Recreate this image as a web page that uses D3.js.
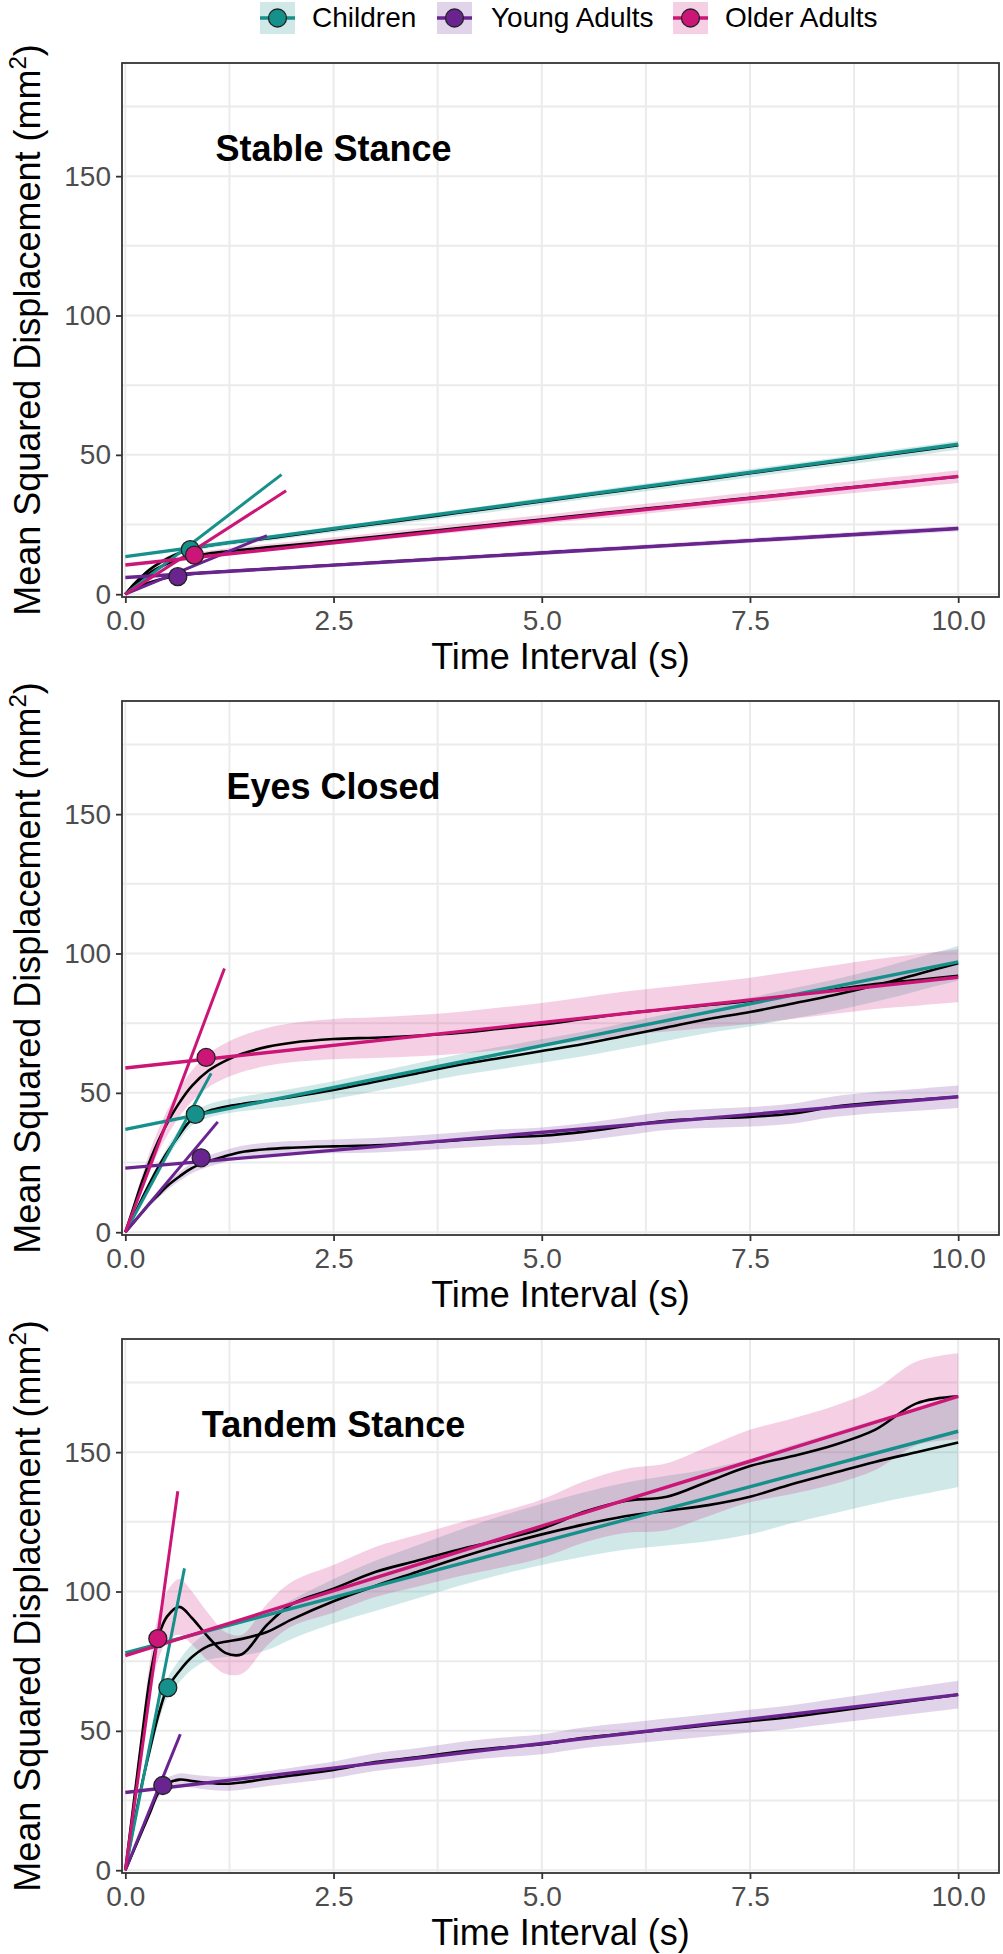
<!DOCTYPE html>
<html>
<head>
<meta charset="utf-8">
<script src="https://cdn.jsdelivr.net/npm/d3@7"></script>
<style>
body { margin: 0; background: #fff; }
text { font-family: "Liberation Sans", Arial, sans-serif; }
</style>
</head>
<body>
<div id="chart"></div>
<script>
var width = 1003;
var height = 1954;

var groups = ["Children", "Young Adults", "Older Adults"];
var colors = ["#15908B", "#6A248F", "#CB1677"];
var conditions = ["Stable Stance", "Eyes Closed", "Tandem Stance"];

var xTicks = [0, 2.5, 5, 7.5, 10];
var xMinor = [1.25, 3.75, 6.25, 8.75];
var yTicks = [0, 50, 100, 150];
var yMinor = [25, 75, 125, 175];

// time interval (s) of the mean curves
var time = [0, 0.1, 0.2, 0.3, 0.4, 0.5, 0.65, 0.8, 1.0, 1.2, 1.4, 1.7, 2.0, 2.5, 3, 3.5, 4, 4.5, 5, 5.5, 6, 6.5, 7, 7.5, 8, 8.5, 9, 9.5, 10];

// Stable Stance
var stableChildren = [0,3.5,6.5,9,11,12.8,14.8,16.2,17.4,18.3,19,20,21.2,23.2,25.2,27.2,29.2,31.2,33.3,35.3,37.3,39.3,41.3,43.4,45.4,47.4,49.4,51.4,53.5];
var stableYoung = [0,1.8,3.2,4.3,5.2,5.9,6.7,7.3,7.8,8.2,8.6,9.1,9.6,10.5,11.4,12.3,13.1,14,14.9,15.8,16.6,17.5,18.4,19.3,20.1,21,21.9,22.7,23.6];
var stableOlder = [0,3,5.6,7.8,9.5,10.9,12.5,13.6,14.6,15.3,15.9,16.8,17.6,19.1,20.6,22.2,23.7,25.3,26.8,28.4,29.9,31.5,33,34.6,36.1,37.7,39.2,40.7,42.2];
var stableChildrenSe = [0,0.3,0.5,0.6,0.7,0.8,0.8,0.9,0.9,0.9,1,1,1,1.1,1.1,1.2,1.2,1.3,1.3,1.3,1.4,1.4,1.4,1.5,1.5,1.5,1.6,1.6,1.6];
var stableYoungSe = [0,0.2,0.3,0.4,0.4,0.5,0.5,0.5,0.5,0.5,0.6,0.6,0.6,0.6,0.7,0.7,0.7,0.7,0.8,0.8,0.8,0.8,0.9,0.9,0.9,0.9,1,1,1];
var stableOlderSe = [0,0.3,0.5,0.6,0.7,0.8,0.9,1,1,1.1,1.1,1.2,1.2,1.3,1.4,1.4,1.5,1.6,1.6,1.7,1.8,1.8,1.9,2,2,2.1,2.2,2.2,2.3];
var stableLongFit = [[13.5, 53.8], [6, 23.6], [10.5, 42.3]];   // y at t=0 and t=10
var stableShortFit = [[1.875, 42.9], [1.7, 21], [1.93, 37.1]]; // end point of line from origin
var stablePoints = [[0.78, 16], [0.63, 6.3], [0.83, 14]];

// Eyes Closed
var eyesChildren = [0,6,12,18,23.5,28.5,35,40.5,43.5,45,46,47.2,48.5,51,54,57,60,62.5,65,67.5,70.5,73.5,76.5,79,82,85,88.5,92.5,96.5];
var eyesYoung = [0,3.5,7,10.5,13.5,16.5,20,23,25.5,27.3,28.8,29.8,30.3,30.8,31.2,32,33,34,34.6,36,38,40,40.8,41.4,42.5,45,46.5,47.5,48.6];
var eyesOlder = [0,9,18,26,33,39,46.5,52.5,58,61.5,64,66.5,68,69.3,69.8,70.5,71.5,73,74.5,76.5,78.5,80,81.5,83,85,87,89,90.5,92];
var eyesChildrenSe = [0,0.5,1,1.3,1.6,1.8,2,2.2,2.4,2.5,2.6,2.8,3,3.2,3.4,3.6,3.8,4,4.2,4.4,4.6,4.8,5,5.2,5.4,5.6,5.8,6,6.2];
var eyesYoungSe = [0,0.4,0.7,1,1.2,1.4,1.6,1.8,2,2.1,2.2,2.3,2.4,2.5,2.6,2.7,2.8,2.9,3,3.1,3.2,3.3,3.4,3.5,3.6,3.7,3.8,3.9,4];
var eyesOlderSe = [0,1.5,2.5,3.5,4,4.5,5,5.5,6,6.3,6.5,6.8,7,7.2,7.3,7.4,7.5,7.6,7.7,7.8,7.9,8,8.1,8.3,8.5,8.7,8.9,9.2,9.5];
var eyesLongFit = [[36.9, 97], [23, 48.6], [58.9, 91.5]];
var eyesShortFit = [[1.03, 57], [1.11, 39.6], [1.19, 94.6]];
var eyesPoints = [[0.84, 42.3], [0.91, 26.7], [0.97, 62.7]];

// Tandem Stance
var tandemChildren = [0,16,31,44,56,65,71.5,76.5,80.5,82,83,85.5,90,96.5,102,107,112,116.5,120.5,124,127,129,131,134,138.5,142.5,146.5,150,153.5];
var tandemYoung = [0,7,14,21,28,31,32.5,32,31.3,31,31.5,32.8,34,36,38.8,40.5,42.5,44,45.2,47.5,49,50.5,52,53.5,55,57,59,61,63];
var tandemOlder = [0,24,48,70,84,91,94.5,90.5,83.5,78,77.5,88,95.5,101,107,111,115,118.5,122.5,128.5,132.5,134,139.5,145,148.5,152.5,158,167.5,170];
var tandemChildrenSe = [0,1,2,2.5,3,3.5,4,4.5,5,5.5,6,6.5,7,8,9,9.5,10,10.5,11,11.5,12,12.5,13,13.5,14,14.5,15,15.5,16];
var tandemYoungSe = [0,0.6,1.1,1.5,1.8,2,2.2,2.3,2.4,2.5,2.6,2.7,2.8,3,3.2,3.3,3.4,3.5,3.6,3.7,3.8,3.9,4,4.1,4.2,4.4,4.6,4.8,5];
var tandemOlderSe = [0,2,4,6,8,9,10,9.5,8.5,7.5,7,7.5,8,8.5,9,9.3,9.6,10,10.5,11,11.5,12,12.5,13,13.5,14,14.5,15,15.5];
var tandemLongFit = [[78, 157.5], [27.9, 63], [77, 170]];
var tandemShortFit = [[0.71, 108.3], [0.66, 48.8], [0.63, 136]];
var tandemPoints = [[0.51, 65.5], [0.45, 30.4], [0.39, 83.1]];

var means = [
    [stableChildren, stableYoung, stableOlder],
    [eyesChildren, eyesYoung, eyesOlder],
    [tandemChildren, tandemYoung, tandemOlder]
];
var ses = [
    [stableChildrenSe, stableYoungSe, stableOlderSe],
    [eyesChildrenSe, eyesYoungSe, eyesOlderSe],
    [tandemChildrenSe, tandemYoungSe, tandemOlderSe]
];
var longFits = [stableLongFit, eyesLongFit, tandemLongFit];
var shortFits = [stableShortFit, eyesShortFit, tandemShortFit];
var points = [stablePoints, eyesPoints, tandemPoints];

var plotLeft = 122, plotRight = 999, plotH = 534;
var panelTops = [63, 701, 1339];
var gridColor = "#EBEBEB";
var inkColor = "#333333";

var svg = d3.select("#chart")
    .append("svg")
    .attr("width", width)
    .attr("height", height);

var x = d3.scaleLinear().domain([-0.04, 10.49]).range([plotLeft, plotRight]);

conditions.forEach(function(cond, k) {
    var top = panelTops[k];
    var bottom = top + plotH;
    var y = d3.scaleLinear().domain([-1, 190.6]).range([bottom, top]);
    var g = svg.append("g");

    g.append("clipPath").attr("id", "clip" + k)
        .append("rect")
        .attr("x", plotLeft).attr("y", top)
        .attr("width", plotRight - plotLeft).attr("height", plotH);

    // grid
    g.selectAll(".vg").data(xMinor.concat(xTicks)).enter().append("line")
        .attr("x1", function(d) { return x(d); })
        .attr("x2", function(d) { return x(d); })
        .attr("y1", top).attr("y2", bottom)
        .attr("stroke", gridColor).attr("stroke-width", 2);
    g.selectAll(".hg").data(yMinor.concat(yTicks)).enter().append("line")
        .attr("y1", function(d) { return y(d); })
        .attr("y2", function(d) { return y(d); })
        .attr("x1", plotLeft).attr("x2", plotRight)
        .attr("stroke", gridColor).attr("stroke-width", 2);

    var plot = g.append("g").attr("clip-path", "url(#clip" + k + ")");

    // ribbons
    groups.forEach(function(grp, i) {
        var area = d3.area()
            .x(function(d, j) { return x(time[j]); })
            .y0(function(d, j) { return y(d - ses[k][i][j]); })
            .y1(function(d, j) { return y(d + ses[k][i][j]); })
            .curve(d3.curveCatmullRom);
        plot.append("path")
            .attr("d", area(means[k][i]))
            .attr("fill", colors[i])
            .attr("fill-opacity", 0.2);
    });

    // mean curves
    groups.forEach(function(grp, i) {
        var line = d3.line()
            .x(function(d, j) { return x(time[j]); })
            .y(function(d) { return y(d); })
            .curve(d3.curveCatmullRom);
        plot.append("path")
            .attr("d", line(means[k][i]))
            .attr("fill", "none")
            .attr("stroke", "#000")
            .attr("stroke-width", 2.6);
    });

    // fitted lines
    groups.forEach(function(grp, i) {
        plot.append("line")
            .attr("x1", x(0)).attr("y1", y(longFits[k][i][0]))
            .attr("x2", x(10)).attr("y2", y(longFits[k][i][1]))
            .attr("stroke", colors[i]).attr("stroke-width", 3.4);
        plot.append("line")
            .attr("x1", x(0)).attr("y1", y(0))
            .attr("x2", x(shortFits[k][i][0])).attr("y2", y(shortFits[k][i][1]))
            .attr("stroke", colors[i]).attr("stroke-width", 3);
    });

    // critical points
    g.selectAll(".pt").data(points[k]).enter().append("circle")
        .attr("cx", function(d) { return x(d[0]); })
        .attr("cy", function(d) { return y(d[1]); })
        .attr("r", 9)
        .attr("fill", function(d, i) { return colors[i]; })
        .attr("stroke", "#222")
        .attr("stroke-width", 1.3);

    // axes
    var ya = g.append("g")
        .attr("transform", "translate(" + plotLeft + ",0)")
        .call(d3.axisLeft(y).tickValues(yTicks).tickSize(6).tickPadding(5));
    var xa = g.append("g")
        .attr("transform", "translate(0," + bottom + ")")
        .call(d3.axisBottom(x).tickValues(xTicks).tickSize(6).tickPadding(7).tickFormat(d3.format(".1f")));
    [ya, xa].forEach(function(a) {
        a.select(".domain").remove();
        a.selectAll("line").attr("stroke", inkColor).attr("stroke-width", 1.8);
        a.selectAll("text")
            .attr("font-size", 28)
            .attr("font-family", "Liberation Sans, Arial, sans-serif")
            .attr("fill", "#4D4D4D");
    });

    g.append("rect")
        .attr("x", plotLeft).attr("y", top)
        .attr("width", plotRight - plotLeft).attr("height", plotH)
        .attr("fill", "none")
        .attr("stroke", inkColor).attr("stroke-width", 1.8);

    // panel title
    g.append("text")
        .attr("x", x(2.5)).attr("y", y(155.5))
        .attr("text-anchor", "middle")
        .attr("font-size", 36).attr("font-weight", "bold")
        .attr("fill", "#000")
        .text(cond);

    // axis titles
    g.append("text")
        .attr("x", (plotLeft + plotRight) / 2).attr("y", bottom + 72)
        .attr("text-anchor", "middle")
        .attr("font-size", 36).attr("fill", "#000")
        .text("Time Interval (s)");

    var yt = g.append("text")
        .attr("transform", "translate(40," + (top + plotH / 2) + ") rotate(-90)")
        .attr("text-anchor", "middle")
        .attr("font-size", 36).attr("fill", "#000");
    yt.append("tspan").text("Mean Squared Displacement (mm");
    yt.append("tspan").attr("font-size", 24).attr("dy", -14).text("2");
    yt.append("tspan").attr("dy", 14).text(")");
});

// legend
var keyX = [260, 437, 673];
var labelX = [312, 491, 725];
var legend = svg.append("g");
groups.forEach(function(grp, i) {
    legend.append("rect")
        .attr("x", keyX[i]).attr("y", 2)
        .attr("width", 35).attr("height", 32)
        .attr("fill", colors[i]).attr("fill-opacity", 0.2);
    legend.append("line")
        .attr("x1", keyX[i]).attr("x2", keyX[i] + 35)
        .attr("y1", 18).attr("y2", 18)
        .attr("stroke", colors[i]).attr("stroke-width", 3.4);
    legend.append("circle")
        .attr("cx", keyX[i] + 17.5).attr("cy", 18).attr("r", 9)
        .attr("fill", colors[i])
        .attr("stroke", "#222").attr("stroke-width", 1.3);
    legend.append("text")
        .attr("x", labelX[i]).attr("y", 27)
        .attr("font-size", 28).attr("fill", "#000")
        .text(grp);
});
</script>
</body>
</html>
